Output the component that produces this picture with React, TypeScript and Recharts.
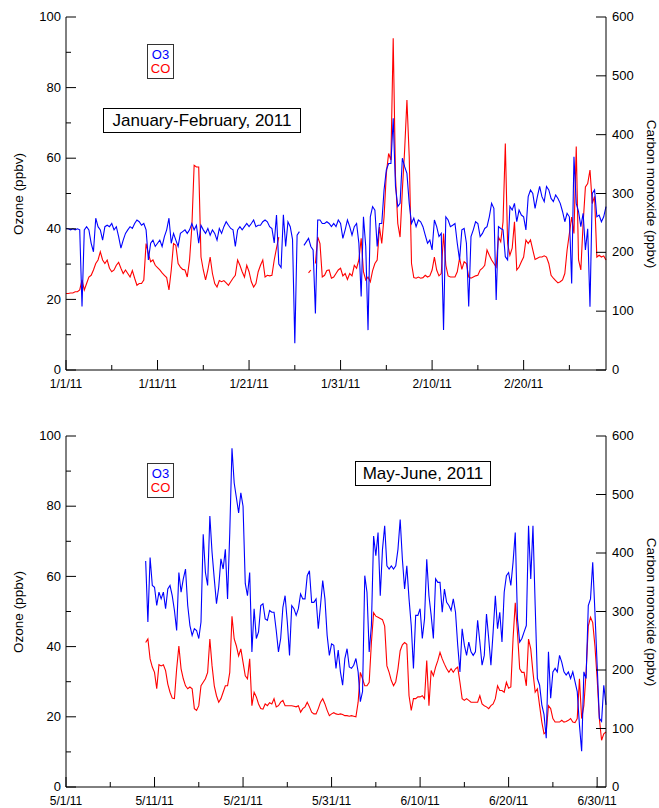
import { ComposedChart, Line, XAxis, YAxis } from "recharts"

// samples every 6 h, t = days since the first tick of each panel
const STEP = 0.25

// Jan-Feb 2011 (t = 0 at 1/1/11)
const janO3 = [
  40.1, 40, 39.7, 40,
  39.7, 40, 39.7, 18,
  39.7, 40.6, 39.7, 35.9,
  33.5, 43, 40.6, 39.7,
  36.8, 40.6, 41, 40.6,
  41.5, 39.7, 40.6, 37.8,
  34.5, 36.8, 38.7, 39.7,
  40.6, 40.1, 41.5, 42.5,
  42, 41, 41.5, 39.7,
  31.2, 35.9, 36.8, 35,
  35.9, 36.8, 35, 37.8,
  39.7, 43, 35.9, 38.7,
  36.8, 35, 38.7, 39.2,
  39.7, 38.7, 39.7, 41.5,
  39.7, 41, 35.9, 41,
  39.7, 38.7, 40.1, 38.2,
  39.7, 38.7, 36.8, 40.1,
  38.7, 40.6, 42, 41,
  40.1, 39.7, 35, 39.7,
  40.6, 39.7, 40.6, 41.5,
  40.6, 41.5, 42.5, 40.6,
  41, 41, 42, 42.5,
  42, 40.6, 40.1, 36,
  43.9, 30, 29, 44,
  35, 42, 40.6, 37,
  7.6, 38.2, 39.2, null,
  35.3, 36.3, 37.3, 35,
  34, 16, 42.5, 42.5,
  41.5, 41.5, 42, 41.5,
  40.6, 41.5, 40.6, 42.5,
  41.5, 37.3, 39.7, 42.5,
  40.6, 38.2, 40.6, 41.5,
  35.9, 20.8, 43.4, 35,
  11.3, 43.4, 46.3, 45.3,
  35, 41.5, 41.5, 51,
  56.7, 58.5, 58.5, 71.3,
  52, 46.3, 47.2, 60,
  57.6, 55.7, 47.2, 41.5,
  43, 40.6, 42.5, 42,
  40.6, 38.2, 35.9, 36.8,
  34, 42.5, 40.6, 37.8,
  38.7, 11.3, 43.4, 42.5,
  40.6, 41, 41.5, 35.9,
  31.2, 39.7, 40.1, 35.9,
  18, 37.8, 39.7, 42,
  41.5, 37.8, 38.7, 40.1,
  40.6, 43.4, 47.2, 45.8,
  19.8, 40.6, 40.1, 39.7,
  32.1, 31.2, 46.3, 45.3,
  47.2, 42, 45.3, 43.9,
  43.4, 39.7, 49.1, 51,
  50, 45.8, 49.1, 52,
  49.1, 47.7, 52, 51,
  48.6, 47.7, 49.6, 48.6,
  47.2, 44.9, 42, 44.4,
  43.4, 24.5, 60.4, 47.2,
  44.9, 40.6, 44.4, 34,
  40, 17.9, 50, 51,
  43.4, 43.9, 42, 43.4,
  46.3,
]

const janCO = [
  130, 130, 131, 131,
  133, 133, 136, 153,
  136, 147, 158, 161,
  170, 181, 187, 201,
  187, 181, 187, 173,
  167, 170, 178, 183,
  173, 164, 170, 164,
  158, 169, 156, 144,
  147, 147, 153, 215,
  198, 184, 187, 178,
  174, 170, 165, 161,
  157, 136, 170, 215,
  212, 181, 175, 171,
  170, 158, 187, 243,
  348, 345, 345, 192,
  170, 153, 170, 192,
  164, 147, 141, 152,
  150, 152, 148, 144,
  150, 156, 161, 187,
  178, 167, 158, 178,
  167, 150, 141, 147,
  167, 178, 187, 158,
  161, 160, 161, 187,
  207, 226, null, null,
  null, null, null, null,
  null, null, null, null,
  null, null, 165, 170,
  null, 181, 226, 215,
  158, 161, 169, 170,
  156, 158, 164, 170,
  173, 160, 164, 154,
  164, 160, 178, 173,
  187, 224, 167, 153,
  158, 150, 169, 181,
  187, 243, 215, 260,
  334, 368, 357, 564,
  329, 249, 226, 306,
  374, 459, 363, 181,
  157, 156, 158, 156,
  157, 161, 158, 160,
  170, 192, 170, 160,
  164, 232, 178, 160,
  158, 158, 158, 167,
  190, 171, 184, 181,
  158, 156, 158, 160,
  161, 170, 173, 178,
  204, 195, 187, 181,
  175, 226, 218, 252,
  385, 215, 195, 207,
  252, 170, 175, 184,
  192, 221, 215, 221,
  204, 188, 190, 192,
  192, 194, 192, 181,
  161, 156, 152, 148,
  150, 153, 164, 204,
  232, 260, 232, 380,
  187, 170, 249, 311,
  317, 340, 283, 295,
  192, 195, 192, 194,
  187,
]

const janTicks = [0, 5, 10, 15, 20, 25, 30, 35, 40, 45, 50, 55]
const janLabels = ["1/1/11", "1/11/11", "1/21/11", "1/31/11", "2/10/11", "2/20/11"]

// May-Jun 2011 (t = 0 at 5/1/11), record starts on day 9
const MAY_START = 9

const mayO3 = [
  64.4, 47, 65.4, 57.4,
  56.9, 51.7, 55.5, 53.6,
  55.5, 50.8, 56.4, 57.4,
  54.5, 50.3, 44.6, 61.1,
  55.5, 59.3, 62.1, 51.7,
  46, 43.2, 45.1, 44.6,
  42.3, 47, 72, 61.1,
  57.4, 77.2, 66.8, 59.3,
  52.2, 56.9, 65, 62.1,
  67.7, 53.6, 72.5, 96.5,
  86.6, 82.4, 78.1, 83.8,
  80, 58, 54.5, 61.1,
  38.5, 50.8, 42.3, 44.2,
  51.7, 52.2, 47.9, 47.5,
  50.3, 49.8, 49.8, 44.6,
  38.5, 42.3, 51.2, 54.5,
  47, 37.5, 51.7, 50.8,
  48.9, 50.8, 55, 53.6,
  53.6, 60.2, 61.6, 52.6,
  52.6, 53.6, 45.1, 51.7,
  58.8, 53.6, 43.2, 37.5,
  40.8, 40.4, 33.8, 39,
  32.8, 29, 36.6, 39.4,
  34.2, 33.8, 34.7, 36.6,
  32.8, 24.3, 27.2, 60.2,
  55.5, 38.5, 46, 71.5,
  65.9, 72.5, 54.5, 67.7,
  74.4, 63, 62.1, 63,
  62.1, 63, 67.7, 76.2,
  64.9, 56.4, 63, 53.6,
  46, 33.8, 48.9, 48.9,
  50.8, 42.3, 47.9, 64.9,
  54.5, 48.9, 42.3, 59.3,
  58.3, 58.3, 49.8, 56.4,
  52.6, 51.7, 50.3, 53.6,
  49.8, 40.4, 32.8, 45.1,
  40.4, 37.5, 41.3, 38.5,
  37.5, 38.5, 47.5, 41.3,
  34.7, 37.5, 49.3, 42.3,
  34.7, 44.2, 54.5, 45.1,
  49.8, 41.3, 55.5, 60.2,
  61.1, 57.4, 64, 72.5,
  47.9, 41.3, 42.3, 44.2,
  46, 74.4, 59.3, 74.4,
  51.7, 30.9, 29, 23.4,
  20.6, 13.9, 38.5, 25.3,
  32.8, 33.8, 32.8, 37.5,
  35.6, 32.8, 31.9, 32.8,
  30.9, 32.8, 30, 27.2,
  17.7, 10.2, 32.8, 30.9,
  51.7, 53.6, 64, 49.8,
  34.7, 19.6, 18.7, 29,
  23.4,
]

const mayCO = [
  247, 253, 219, 205,
  196, 168, 209, 207,
  209, 199, 176, 162,
  152, 151, 202, 241,
  202, 185, 173, 168,
  171, 168, 134, 131,
  139, 173, 179, 185,
  196, 253, 207, 173,
  156, 145, 151, 162,
  173, 173, 196, 292,
  253, 241, 224, 236,
  213, 190, 185, 219,
  139, 162, 154, 142,
  134, 133, 142, 139,
  144, 142, 151, 137,
  139, 145, 148, 139,
  139, 139, 139, 138,
  137, 139, 128, 134,
  137, 145, 137, 128,
  125, 125, 134, 145,
  151, 142, 131, 122,
  125, 127, 125, 124,
  125, 124, 122, 122,
  121, 122, 121, 120,
  145, 196, 185, 173,
  173, 179, 247, 298,
  292, 290, 288, 286,
  275, 207, 196, 182,
  173, 180, 202, 233,
  243, 247, 244, 156,
  131, 151, 151, 154,
  154, 156, 151, 216,
  139, 199, 190, 205,
  216, 230, 219, 210,
  202, 196, 202, 196,
  202, 205, 179, 151,
  148, 151, 148, 145,
  145, 145, 145, 156,
  142, 139, 137, 134,
  139, 142, 151, 173,
  165, 165, 162, 179,
  169, 171, 253, 315,
  264, 202, 196, 196,
  173, 253, 236, 196,
  162, 168, 139, 111,
  91, 94, 139, 134,
  117, 111, 111, 111,
  114, 111, 112, 114,
  117, 111, 110, 117,
  185, 117, 139, 196,
  275, 290, 281, 241,
  185, 117, 80, 91,
  94,
]

const mayTicks = [0, 5, 10, 15, 20, 25, 30, 35, 40, 45, 50, 55, 60]
const mayLabels = ["5/1/11", "5/11/11", "5/21/11", "5/31/11", "6/10/11", "6/20/11", "6/30/11"]

const o3Ticks = [0, 10, 20, 30, 40, 50, 60, 70, 80, 90, 100]
const coTicks = [0, 100, 200, 300, 400, 500, 600]

const FONT = '"Liberation Sans", Arial, Helvetica, sans-serif'
const BLUE = "#0000ff"
const RED = "#ff0000"

function bottomTick(labels: string[]) {
  return (props: any) => {
    const { x, y, payload } = props
    const v = payload.value
    const major = v % 10 === 0
    return (
      <g>
        <line x1={x} x2={x} y1={y} y2={y - (major ? 10 : 5)} stroke="#000" />
        {major && (
          <text x={x} y={y + 18} textAnchor="middle" fontSize={12} fontFamily={FONT} fill="#000">
            {labels[Math.round(v / 10)]}
          </text>
        )}
      </g>
    )
  }
}

const topTick = (props: any) => {
  const { x, y, payload } = props
  const len = payload.value % 10 === 0 ? 10 : 5
  return <line x1={x} x2={x} y1={y} y2={y + len} stroke="#000" />
}

const leftTick = (props: any) => {
  const { x, y, payload } = props
  const major = payload.value % 20 === 0
  return (
    <g>
      <line x1={x} x2={x + (major ? 10 : 5)} y1={y} y2={y} stroke="#000" />
      {major && (
        <text x={x - 5} y={y} dy="0.32em" textAnchor="end" fontSize={13} fontFamily={FONT} fill="#000">
          {payload.value}
        </text>
      )}
    </g>
  )
}

const rightTick = (props: any) => {
  const { x, y, payload } = props
  return (
    <g>
      <line x1={x} x2={x - 10} y1={y} y2={y} stroke="#000" />
      <text x={x + 6} y={y} dy="0.32em" textAnchor="start" fontSize={13} fontFamily={FONT} fill="#000">
        {payload.value}
      </text>
    </g>
  )
}

function Panel(props: {
  o3: (number | null)[]
  co: (number | null)[]
  start: number
  xMax: number
  ticks: number[]
  labels: string[]
  top: number
  height: number
  marginTop: number
  xHeight: number
  title: string
  titleBox: { left: number; top: number; width: number }
  legendTop: number
}) {
  const rows = props.o3.map((v, i) => ({ t: props.start + i * STEP, o3: v, co: props.co[i] }))
  const plotTop = props.marginTop
  const plotBottom = props.height - props.xHeight
  const midY = (plotTop + plotBottom) / 2
  return (
    <div style={{ position: "absolute", left: 0, top: props.top, width: 659, height: props.height }}>
      <ComposedChart
        width={659}
        height={props.height}
        data={rows}
        margin={{ top: props.marginTop, right: 0, bottom: 0, left: 0 }}
      >
        <XAxis
          dataKey="t"
          type="number"
          domain={[0, props.xMax]}
          ticks={props.ticks}
          interval={0}
          height={props.xHeight}
          tickSize={0}
          tickMargin={0}
          tickLine={false}
          axisLine={{ stroke: "#000" }}
          tick={bottomTick(props.labels)}
        />
        <XAxis
          xAxisId="top"
          orientation="top"
          dataKey="t"
          type="number"
          domain={[0, props.xMax]}
          ticks={props.ticks}
          interval={0}
          height={0}
          tickSize={0}
          tickMargin={0}
          tickLine={false}
          axisLine={{ stroke: "#000" }}
          tick={topTick}
        />
        <YAxis
          yAxisId="o3"
          type="number"
          domain={[0, 100]}
          ticks={o3Ticks}
          interval={0}
          width={66}
          tickSize={0}
          tickMargin={0}
          tickLine={false}
          axisLine={{ stroke: "#000" }}
          tick={leftTick}
        />
        <YAxis
          yAxisId="co"
          orientation="right"
          type="number"
          domain={[0, 600]}
          ticks={coTicks}
          interval={0}
          width={53}
          tickSize={0}
          tickMargin={0}
          tickLine={false}
          axisLine={{ stroke: "#000" }}
          tick={rightTick}
        />
        <Line
          yAxisId="co"
          dataKey="co"
          type="linear"
          stroke={RED}
          strokeWidth={1.1}
          dot={false}
          activeDot={false}
          connectNulls={false}
          isAnimationActive={false}
        />
        <Line
          yAxisId="o3"
          dataKey="o3"
          type="linear"
          stroke={BLUE}
          strokeWidth={1.1}
          dot={false}
          activeDot={false}
          connectNulls={false}
          isAnimationActive={false}
        />
      </ComposedChart>

      <div
        style={{
          position: "absolute",
          left: 18,
          top: midY,
          transform: "translate(-50%, -50%) rotate(-90deg)",
          whiteSpace: "nowrap",
          fontSize: 13.5,
        }}
      >
        Ozone (ppbv)
      </div>
      <div
        style={{
          position: "absolute",
          left: 651,
          top: midY,
          transform: "translate(-50%, -50%) rotate(90deg)",
          whiteSpace: "nowrap",
          fontSize: 13.5,
        }}
      >
        Carbon monoxide (ppbv)
      </div>

      <div
        style={{
          position: "absolute",
          left: 147,
          top: props.legendTop,
          width: 25,
          border: "1px solid #333",
          fontSize: 13,
          lineHeight: "13.5px",
          padding: "3px 0 3px",
          textAlign: "center",
          background: "#fff",
        }}
      >
        <div style={{ color: BLUE }}>O3</div>
        <div style={{ color: RED }}>CO</div>
      </div>

      <div
        style={{
          position: "absolute",
          left: props.titleBox.left,
          top: props.titleBox.top,
          width: props.titleBox.width,
          height: 23,
          lineHeight: "23px",
          border: "1px solid #000",
          fontSize: 17,
          textAlign: "center",
          background: "#fff",
          whiteSpace: "nowrap",
        }}
      >
        {props.title}
      </div>
    </div>
  )
}

export default function App() {
  return (
    <div
      style={{
        position: "absolute",
        left: 0,
        top: 0,
        width: 659,
        height: 808,
        background: "#fff",
        fontFamily: FONT,
        color: "#000",
        overflow: "hidden",
      }}
    >
      <Panel
        o3={janO3}
        co={janCO}
        start={0}
        xMax={59}
        ticks={janTicks}
        labels={janLabels}
        top={0}
        height={400}
        marginTop={17}
        xHeight={30}
        title="January-February, 2011"
        titleBox={{ left: 103, top: 108, width: 196 }}
        legendTop={44}
      />
      <Panel
        o3={mayO3}
        co={mayCO}
        start={MAY_START}
        xMax={61}
        ticks={mayTicks}
        labels={mayLabels}
        top={400}
        height={408}
        marginTop={36}
        xHeight={21}
        title="May-June, 2011"
        titleBox={{ left: 355, top: 61, width: 134 }}
        legendTop={63}
      />
    </div>
  )
}
